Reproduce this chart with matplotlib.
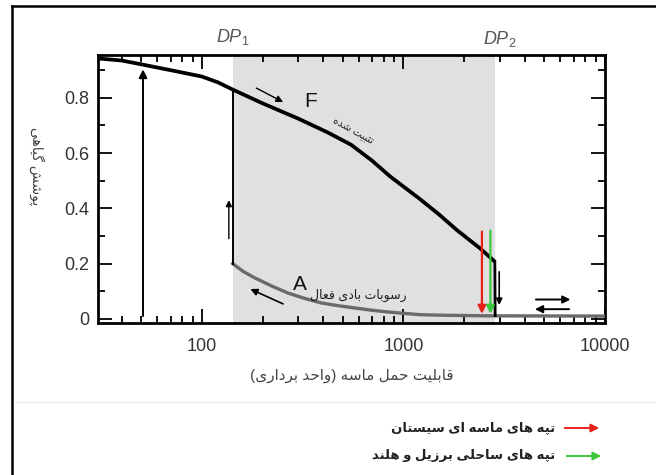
import matplotlib.pyplot as plt
from matplotlib.lines import Line2D
from matplotlib.ticker import LogLocator, FixedLocator, FixedFormatter, NullFormatter

plt.rcParams['font.family'] = ['Liberation Sans', 'DejaVu Sans']
plt.rcParams['mathtext.fontset'] = 'custom'
plt.rcParams['mathtext.it'] = 'Liberation Sans:italic'
plt.rcParams['mathtext.rm'] = 'Liberation Sans'

# Persian letter forms: isolated, final, initial, medial
FORMS = {
    'ا': ('\uFE8D', '\uFE8E', None, None),
    'ب': ('\uFE8F', '\uFE90', '\uFE91', '\uFE92'),
    'پ': ('\uFB56', '\uFB57', '\uFB58', '\uFB59'),
    'ت': ('\uFE95', '\uFE96', '\uFE97', '\uFE98'),
    'ث': ('\uFE99', '\uFE9A', '\uFE9B', '\uFE9C'),
    'ح': ('\uFEA1', '\uFEA2', '\uFEA3', '\uFEA4'),
    'د': ('\uFEA9', '\uFEAA', None, None),
    'ر': ('\uFEAD', '\uFEAE', None, None),
    'ز': ('\uFEAF', '\uFEB0', None, None),
    'س': ('\uFEB1', '\uFEB2', '\uFEB3', '\uFEB4'),
    'ش': ('\uFEB5', '\uFEB6', '\uFEB7', '\uFEB8'),
    'ع': ('\uFEC9', '\uFECA', '\uFECB', '\uFECC'),
    'ف': ('\uFED1', '\uFED2', '\uFED3', '\uFED4'),
    'ق': ('\uFED5', '\uFED6', '\uFED7', '\uFED8'),
    'گ': ('\uFB92', '\uFB93', '\uFB94', '\uFB95'),
    'ل': ('\uFEDD', '\uFEDE', '\uFEDF', '\uFEE0'),
    'م': ('\uFEE1', '\uFEE2', '\uFEE3', '\uFEE4'),
    'ن': ('\uFEE5', '\uFEE6', '\uFEE7', '\uFEE8'),
    'ه': ('\uFEE9', '\uFEEA', '\uFEEB', '\uFEEC'),
    'و': ('\uFEED', '\uFEEE', None, None),
    'ی': ('\uFBFC', '\uFBFD', '\uFBFE', '\uFBFF'),
}


def fa(text):
    # join letters and put them in visual (left to right) order
    out = []
    for i, c in enumerate(text):
        f = FORMS.get(c)
        if f is None:
            out.append(c)
            continue
        prev = text[i - 1] if i > 0 else ''
        nxt = text[i + 1] if i < len(text) - 1 else ''
        pj = prev in FORMS and FORMS[prev][2] is not None
        nj = nxt in FORMS and f[2] is not None
        if pj and nj:
            out.append(f[3])
        elif pj:
            out.append(f[1])
        elif nj:
            out.append(f[2])
        else:
            out.append(f[0])
    return ''.join(out)[::-1].translate(str.maketrans('()', ')('))


# data
f_x = [31, 40, 51, 70, 100, 120, 142, 200, 300, 420, 550, 700, 860, 1200, 1500, 1850, 2400, 2840]
f_y = [0.942, 0.935, 0.92, 0.9, 0.877, 0.856, 0.83, 0.78, 0.725, 0.675, 0.63, 0.572, 0.515,
       0.435, 0.378, 0.32, 0.255, 0.207]
drop_x = [2840, 2850]
drop_y = [0.207, 0.012]
a_x = [142, 160, 181, 220, 266, 320, 388, 470, 565, 700, 834, 1000, 1214, 1600, 2500, 10000]
a_y = [0.2, 0.172, 0.15, 0.12, 0.094, 0.075, 0.058, 0.048, 0.04, 0.031, 0.025, 0.02, 0.015,
       0.013, 0.011, 0.01]
dp1, dp2 = 142, 2850
sistan_x, brazil_x = 2450, 2700

fig = plt.figure(figsize=(6.56, 4.75), dpi=100)
ax = fig.add_axes([0.1494, 0.32, 0.7729, 0.5642])

ax.axvspan(dp1, dp2, color='#e0e0e0', lw=0, zorder=0)

ax.plot(f_x, f_y, color='black', lw=2.7, solid_capstyle='butt', solid_joinstyle='round', zorder=4)
ax.plot(drop_x, drop_y, color='black', lw=2.0, zorder=4)
ax.plot(a_x, a_y, color='#6a6a6a', lw=2.4, solid_joinstyle='round', zorder=3)

# transitions
ax.annotate('', xy=(51, 0.913), xytext=(51, 0.0),
            arrowprops=dict(arrowstyle='-|>', color='black', lw=1.4, mutation_scale=12))
ax.plot([dp1, dp1], [0.2, 0.83], color='black', lw=1.4, zorder=3)
ax.annotate('', xy=(136, 0.44), xytext=(136, 0.28),
            arrowprops=dict(arrowstyle='-|>', color='black', lw=1.0, mutation_scale=9))
ax.annotate('', xy=(2985, 0.04), xytext=(2985, 0.18),
            arrowprops=dict(arrowstyle='-|>', color='black', lw=1.2, mutation_scale=9))
ax.annotate('', xy=(260, 0.78), xytext=(181, 0.84),
            arrowprops=dict(arrowstyle='-|>', color='black', lw=1.0, mutation_scale=10))
ax.annotate('', xy=(169, 0.112), xytext=(260, 0.05),
            arrowprops=dict(arrowstyle='-|>', color='black', lw=1.2, mutation_scale=10))
ax.annotate('', xy=(6950, 0.07), xytext=(4400, 0.07),
            arrowprops=dict(arrowstyle='-|>', color='black', lw=1.4, mutation_scale=11))
ax.annotate('', xy=(4350, 0.035), xytext=(6850, 0.035),
            arrowprops=dict(arrowstyle='-|>', color='black', lw=1.4, mutation_scale=11))

# dune markers
ax.annotate('', xy=(sistan_x, 0.008), xytext=(sistan_x, 0.326),
            arrowprops=dict(arrowstyle='-|>', color='#e8201c', lw=1.6, mutation_scale=12), zorder=5)
ax.annotate('', xy=(brazil_x, 0.008), xytext=(brazil_x, 0.33),
            arrowprops=dict(arrowstyle='-|>', color='#3cc83c', lw=1.6, mutation_scale=12), zorder=5)

# labels on curves
ax.text(347, 0.785, 'F', fontsize=15, ha='center', va='center', color='#111')
ax.text(560, 0.68, fa('تثبیت شده'), fontsize=7.5, rotation=-29, ha='center', va='center',
        color='#222')
ax.text(305, 0.123, 'A', fontsize=15, ha='center', va='center', color='#111')
ax.text(345, 0.085, fa('رسوبات بادی فعال'), fontsize=9, ha='left', va='center', color='#222')

ax.text(dp1, 1.067, r'$DP_1$', transform=ax.get_xaxis_transform(), ha='center', va='center',
        fontsize=13, color='#555')
ax.text(3000, 1.06, r'$DP_2$', transform=ax.get_xaxis_transform(), ha='center', va='center',
        fontsize=13, color='#555')

ax.set_xscale('log')
ax.set_xlim(30.5, 10000)
ax.set_ylim(-0.015, 0.955)
ax.xaxis.set_major_locator(FixedLocator([100, 1000, 10000]))
ax.xaxis.set_major_formatter(FixedFormatter(['100', '1000', '10000']))
ax.xaxis.set_minor_locator(LogLocator(base=10, subs=range(2, 10), numticks=20))
ax.xaxis.set_minor_formatter(NullFormatter())
ax.yaxis.set_major_locator(FixedLocator([0, 0.2, 0.4, 0.6, 0.8]))
ax.yaxis.set_major_formatter(FixedFormatter(['0', '0.2', '0.4', '0.6', '0.8']))
ax.yaxis.set_minor_locator(FixedLocator([0.1, 0.3, 0.5, 0.7, 0.9]))

ax.tick_params(which='both', direction='in', top=True, right=True, width=1.3,
               colors='black', labelcolor='#333', labelsize=13)
ax.tick_params(which='major', length=10)
ax.tick_params(which='minor', length=5)
ax.tick_params(axis='x', which='major', pad=11)
ax.tick_params(axis='y', which='major', pad=6)
for s in ax.spines.values():
    s.set_linewidth(2.0)

fig.text(351.5 / 656, 1 - 376 / 475, fa('قابلیت حمل ماسه (واحد برداری)'), ha='center',
         va='center', fontsize=11, color='#444')
fig.text(37 / 656, 1 - 166 / 475, fa('پوشش گیاهی'), rotation=270, ha='center', va='center',
         fontsize=10, color='#444')

# frame and separator
fig.add_artist(Line2D([12 / 656, 12 / 656], [0, 1 - 6 / 475], color='black', lw=1.8))
fig.add_artist(Line2D([12 / 656, 1], [1 - 6 / 475, 1 - 6 / 475], color='black', lw=1.8))
fig.add_artist(Line2D([14 / 656, 1], [1 - 402 / 475, 1 - 402 / 475], color='#eeeeee', lw=1))

# legend
ax.annotate('', xy=(602 / 656, 1 - 428 / 475), xytext=(562 / 656, 1 - 428 / 475),
            xycoords='figure fraction', textcoords='figure fraction', annotation_clip=False,
            arrowprops=dict(arrowstyle='-|>', color='#e8201c', lw=1.4, mutation_scale=12))
ax.annotate('', xy=(604 / 656, 1 - 456 / 475), xytext=(564 / 656, 1 - 456 / 475),
            xycoords='figure fraction', textcoords='figure fraction', annotation_clip=False,
            arrowprops=dict(arrowstyle='-|>', color='#3cc83c', lw=1.4, mutation_scale=12))
fig.text(555 / 656, 1 - 428 / 475, fa('تپه های ماسه ای سیستان'), ha='right', va='center',
         fontsize=9.5, fontweight='bold', color='#222')
fig.text(555 / 656, 1 - 456 / 475, fa('تپه های ساحلی برزیل و هلند'), ha='right', va='center',
         fontsize=9.5, fontweight='bold', color='#222')

fig.savefig('out.png', dpi=100)
